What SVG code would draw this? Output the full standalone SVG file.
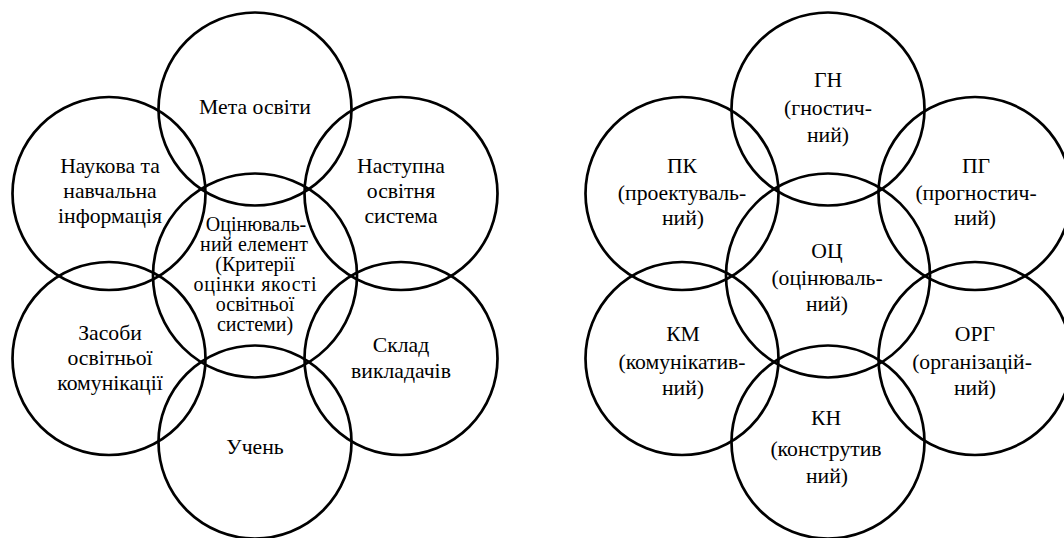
<svg xmlns="http://www.w3.org/2000/svg" width="1064" height="538" viewBox="0 0 1064 538">
  <style>
    .c { fill: none; stroke: #000; stroke-width: 2.7; }
    text { font-family: 'Liberation Serif', 'DejaVu Serif', serif; font-size: 21.7px; fill: #000; text-anchor: middle; }
    .s { font-size: 20px; }
  </style>
  <rect width="1064" height="538" fill="#fff"/>

  <!-- Left diagram -->
  <g id="meta">
    <circle class="c" cx="255" cy="109" r="96.5"/>
    <text x="255" y="114">Мета освіти</text>
  </g>
  <g id="naukova">
    <circle class="c" cx="109" cy="193.5" r="96.5"/>
    <text x="110" y="173">Наукова та</text>
    <text x="110" y="198">навчальна</text>
    <text x="110" y="223">інформація</text>
  </g>
  <g id="nastupna">
    <circle class="c" cx="401" cy="193.5" r="96.5"/>
    <text x="401" y="173">Наступна</text>
    <text x="401" y="198">освітня</text>
    <text x="401" y="223">система</text>
  </g>
  <g id="otsinyuvalnyi">
    <circle class="c" cx="255" cy="275.5" r="102"/>
    <text class="s" x="256" y="231">Оцінюваль-</text>
    <text class="s" x="254" y="251" textLength="108" lengthAdjust="spacing">ний елемент</text>
    <text class="s" x="255" y="271">(Критерії</text>
    <text class="s" x="255" y="291" textLength="123" lengthAdjust="spacing">оцінки якості</text>
    <text class="s" x="255" y="311">освітньої</text>
    <text class="s" x="255" y="331">системи)</text>
  </g>
  <g id="zasoby">
    <circle class="c" cx="109" cy="358.5" r="96.5"/>
    <text x="110" y="340">Засоби</text>
    <text x="110" y="365">освітньої</text>
    <text x="110" y="390">комунікації</text>
  </g>
  <g id="sklad">
    <circle class="c" cx="401" cy="358.5" r="96.5"/>
    <text x="401" y="352">Склад</text>
    <text x="401" y="378">викладачів</text>
  </g>
  <g id="uchen">
    <circle class="c" cx="255" cy="442" r="96.5"/>
    <text x="255" y="454">Учень</text>
  </g>

  <!-- Right diagram -->
  <g id="gn">
    <circle class="c" cx="828" cy="109" r="96.5"/>
    <text x="828" y="87">ГН</text>
    <text x="828" y="115">(гностич-</text>
    <text x="828" y="142">ний)</text>
  </g>
  <g id="pk">
    <circle class="c" cx="682" cy="193.5" r="96.5"/>
    <text x="682" y="173">ПК</text>
    <text x="682" y="200">(проектуваль-</text>
    <text x="683" y="225">ний)</text>
  </g>
  <g id="pg">
    <circle class="c" cx="975" cy="193.5" r="96.5"/>
    <text x="976" y="173">ПГ</text>
    <text x="976" y="200">(прогностич-</text>
    <text x="975" y="225">ний)</text>
  </g>
  <g id="ots">
    <circle class="c" cx="828" cy="275.5" r="102"/>
    <text x="827" y="258">ОЦ</text>
    <text x="827" y="285">(оцінюваль-</text>
    <text x="827" y="311">ний)</text>
  </g>
  <g id="km">
    <circle class="c" cx="682" cy="358.5" r="96.5"/>
    <text x="683" y="341">КМ</text>
    <text x="682" y="369">(комунікатив-</text>
    <text x="683" y="395">ний)</text>
  </g>
  <g id="org">
    <circle class="c" cx="975" cy="358.5" r="96.5"/>
    <text x="975" y="341">ОРГ</text>
    <text x="972" y="369">(організацій-</text>
    <text x="975" y="395">ний)</text>
  </g>
  <g id="kn">
    <circle class="c" cx="828" cy="442" r="96.5"/>
    <text x="826" y="425">КН</text>
    <text x="826" y="456">(конструтив</text>
    <text x="827" y="483">ний)</text>
  </g>

  <g id="connectors"/>
</svg>
